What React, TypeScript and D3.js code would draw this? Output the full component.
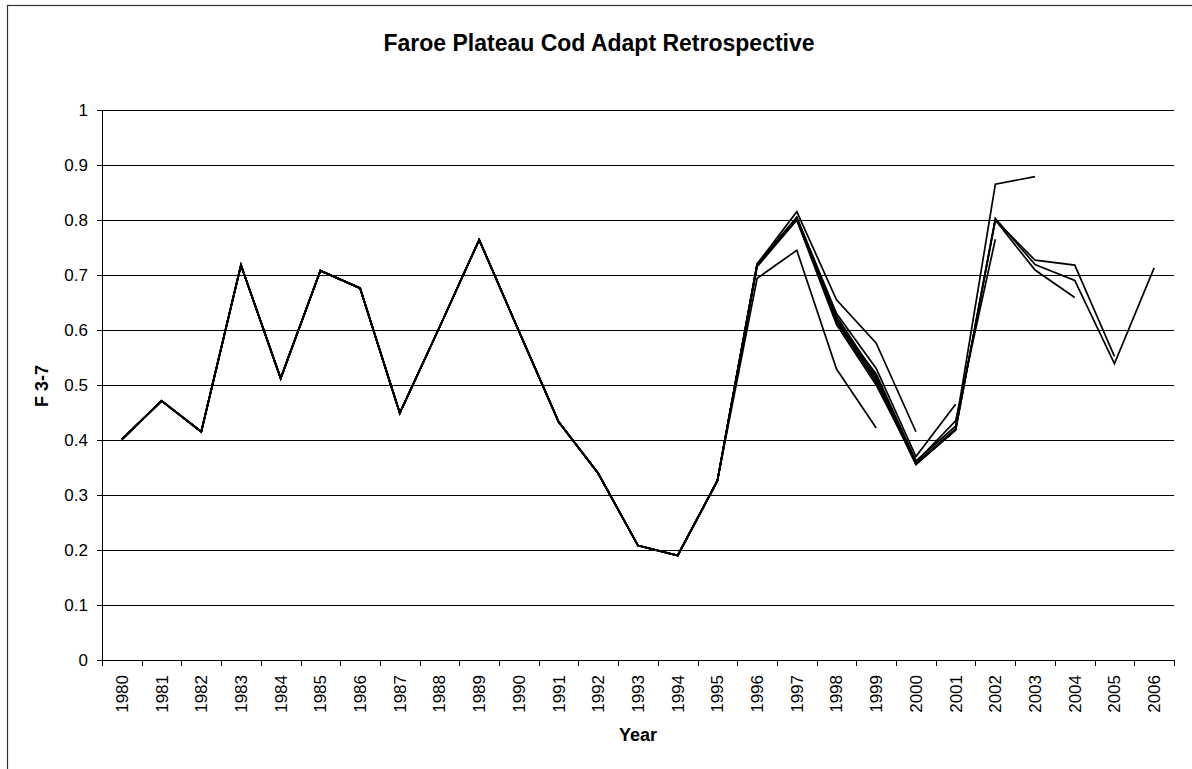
import React from "react";
import * as d3 from "d3";

const years: string[] = [
  "1980","1981","1982","1983","1984","1985","1986","1987","1988","1989",
  "1990","1991","1992","1993","1994","1995","1996","1997","1998","1999",
  "2000","2001","2002","2003","2004","2005","2006",
];

// Common history 1980-1995 (identical in every retrospective run)
const history: number[] = [
  0.401, 0.471, 0.415, 0.718, 0.512, 0.708, 0.676, 0.449, 0.605, 0.764,
  0.598, 0.433, 0.339, 0.208, 0.190, 0.326,
];

// Retrospective tails from 1996 onward, by terminal year
const tail1999: number[] = [0.694, 0.745, 0.529, 0.422];
const tail2000: number[] = [0.72, 0.815, 0.655, 0.576, 0.415];
const tail2001: number[] = [0.72, 0.805, 0.63, 0.53, 0.37, 0.465];
const tail2002: number[] = [0.715, 0.80, 0.61, 0.50, 0.36, 0.435, 0.765];
const tail2003: number[] = [0.718, 0.80, 0.615, 0.52, 0.362, 0.425, 0.865, 0.879];
const tail2004: number[] = [0.72, 0.805, 0.625, 0.515, 0.358, 0.42, 0.80, 0.709, 0.659];
const tail2005: number[] = [0.718, 0.803, 0.62, 0.51, 0.356, 0.418, 0.80, 0.727, 0.718, 0.552];
const tail2006: number[] = [0.718, 0.803, 0.615, 0.505, 0.355, 0.418, 0.803, 0.719, 0.69, 0.539, 0.713];

const tails: number[][] = [tail1999, tail2000, tail2001, tail2002, tail2003, tail2004, tail2005, tail2006];

const yTicks: number[] = [0, 0.1, 0.2, 0.3, 0.4, 0.5, 0.6, 0.7, 0.8, 0.9, 1];

const title = "Faroe Plateau Cod Adapt Retrospective";
const xTitle = "Year";
const yTitle = "F 3-7";

export default function App() {
  const W = 1192, H = 769;
  const left = 102, right = 1174, top = 110, bottom = 660;
  const font = "'Liberation Sans', Arial, sans-serif";

  const x = d3.scaleBand<string>().domain(years).range([left, right]).paddingInner(0).paddingOuter(0);
  const y = d3.scaleLinear().domain([0, 1]).range([bottom, top]);
  const cx = (yr: string) => (x(yr) as number) + x.bandwidth() / 2;

  const line = d3.line<[string, number]>()
    .x((d) => cx(d[0]))
    .y((d) => y(d[1]));

  const series = tails.map((t) => {
    const vals = history.concat(t);
    return vals.map((v, i) => [years[i], v] as [string, number]);
  });

  const crisp = (v: number) => Math.round(v) + 0.5;

  return (
    <svg width={W} height={H} style={{ position: "absolute", left: 0, top: 0, background: "#fff" }}>
      <rect x={7.5} y={5.5} width={1300} height={900} fill="#fff" stroke="#333" strokeWidth={1.2} />
      <text x={599} y={51} textAnchor="middle" fontFamily={font} fontWeight="bold" fontSize={23}>{title}</text>

      {/* gridlines */}
      {yTicks.filter((t) => t > 0).map((t) => (
        <line key={"g" + t} x1={left} x2={right} y1={crisp(y(t))} y2={crisp(y(t))} stroke="#000" strokeWidth={1} />
      ))}
      {/* y axis */}
      <line x1={crisp(left)} x2={crisp(left)} y1={y(1)} y2={bottom + 0.5} stroke="#000" strokeWidth={1} />
      {yTicks.map((t) => (
        <g key={"yt" + t}>
          <line x1={left - 5} x2={left} y1={crisp(y(t))} y2={crisp(y(t))} stroke="#000" strokeWidth={1} />
          <text x={88} y={y(t)} dy="0.35em" textAnchor="end" fontFamily={font} fontSize={17}>{String(t)}</text>
        </g>
      ))}
      {/* x axis */}
      <line x1={left} x2={right + 1} y1={crisp(bottom)} y2={crisp(bottom)} stroke="#000" strokeWidth={1} />
      {years.map((yr) => (
        <line key={"xt" + yr} x1={crisp(x(yr) as number)} x2={crisp(x(yr) as number)} y1={bottom} y2={bottom + 6} stroke="#000" strokeWidth={1} />
      ))}
      <line x1={crisp(right)} x2={crisp(right)} y1={bottom} y2={bottom + 6} stroke="#000" strokeWidth={1} />
      {years.map((yr) => (
        <text key={"xl" + yr} transform={`translate(${cx(yr)},675) rotate(-90)`} textAnchor="end" dy="0.35em" fontFamily={font} fontSize={17}>{yr}</text>
      ))}

      {/* series */}
      {series.map((s, i) => (
        <path key={"s" + i} d={line(s) || ""} fill="none" stroke="#000" strokeWidth={1.7} strokeLinejoin="miter" />
      ))}

      <text x={638} y={741} textAnchor="middle" fontFamily={font} fontWeight="bold" fontSize={18}>{xTitle}</text>
      <text transform={`translate(42,386) rotate(-90)`} textAnchor="middle" dy="0.35em" fontFamily={font} fontWeight="bold" fontSize={18}>{yTitle}</text>
    </svg>
  );
}
